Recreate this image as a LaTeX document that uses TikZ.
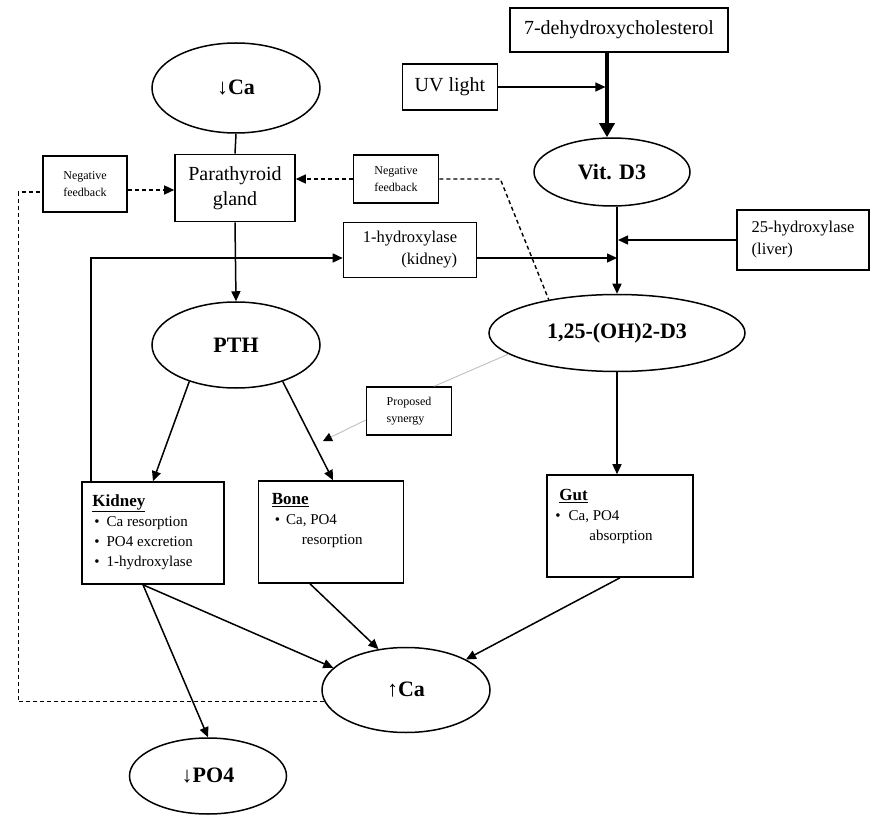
\documentclass[tikz,border=0pt]{standalone}
\usepackage{fontspec}
\setmainfont{Liberation Serif}
\usetikzlibrary{shapes.geometric,arrows.meta,calc}

\begin{document}
\begin{tikzpicture}[x=1pt,y=-1pt,
  box/.style={draw, line width=1.6pt, inner sep=0pt, rectangle},
  oval/.style={draw, ellipse, line width=1.5pt, inner sep=0pt, font=\fontsize{22}{26}\selectfont\bfseries},
  link/.style={line width=1.5pt},
  arr/.style={link, -{Triangle[length=10pt,width=9pt]}},
  fb/.style={line width=1.4pt, dash pattern=on 4pt off 3pt},
  fbarr/.style={fb, -{Triangle[length=10pt,width=9pt]}},
  syn/.style={line width=0.9pt, draw=black!25},
  big/.style={font=\fontsize{20}{25}\selectfont},
  mid/.style={font=\fontsize{16.5}{22}\selectfont},
  small/.style={font=\fontsize{12}{17}\selectfont},
  body/.style={anchor=north west, inner sep=0pt, align=left, font=\fontsize{15}{20}\selectfont},
]
\useasboundingbox (0,0) rectangle (873,818);

% vitamin D pathway
\node[box, big, minimum width=218pt, minimum height=44pt] (dehyd) at (619,30) {7-dehydroxycholesterol};
\node[box, big, minimum width=95pt, minimum height=46pt] (uv) at (450,87) {UV light};
\node[oval, minimum width=156pt, minimum height=68pt] (vitd) at (612,172) {Vit. D3};
\node[box, mid, align=left, minimum width=132pt, minimum height=60pt] (hyd25) at (803,240) {25-hydroxylase\\(liver)};
\node[box, mid, align=right, minimum width=133pt, minimum height=55pt] (hyd1) at (410,250) {1-hydroxylase\\(kidney)};
\node[oval, minimum width=256pt, minimum height=77pt] (oh) at (617,333) {1,25-(OH)2-D3};
\node[box, minimum width=146pt, minimum height=102pt] (gut) at (620,526) {};

% parathyroid axis
\node[oval, minimum width=168pt, minimum height=90pt] (lca) at (236,88) {↓Ca};
\node[box, big, align=center, minimum width=120pt, minimum height=67pt] (pt) at (235,188) {Parathyroid\\gland};
\node[box, small, align=left, minimum width=84pt, minimum height=56pt] (nfL) at (85,184) {Negative\\feedback};
\node[box, small, align=left, minimum width=85pt, minimum height=48pt] (nfR) at (396,179) {Negative\\feedback};
\node[oval, minimum width=168pt, minimum height=86pt] (pth) at (236,345) {PTH};
\node[box, small, align=left, minimum width=85pt, minimum height=48pt] (synbox) at (409,411) {Proposed\\synergy};
\node[box, minimum width=142pt, minimum height=102pt] (kid) at (153,533) {};
\node[box, minimum width=145pt, minimum height=102pt] (bone) at (331,532) {};
\node[oval, minimum width=168pt, minimum height=85pt] (uca) at (406,690) {↑Ca};
\node[oval, minimum width=157pt, minimum height=76pt] (po4) at (208,776) {↓PO4};

% target organ texts
\node[body] (kidtxt) at ($(kid.north west)+(11,13)$)
  {{\fontsize{17}{20}\selectfont\bfseries\underline{Kidney}}\\
   \hspace*{2pt}\textbullet\hspace{7pt}Ca resorption\\
   \hspace*{2pt}\textbullet\hspace{7pt}PO4 excretion\\
   \hspace*{2pt}\textbullet\hspace{7pt}1-hydroxylase};
\node[body] (bonetxt) at ($(bone.north west)+(14,13)$)
  {{\fontsize{17}{20}\selectfont\bfseries\underline{Bone}}\\
   \hspace*{3pt}\textbullet\hspace{6pt}Ca, PO4\\
   \hspace*{30pt}resorption};
\node[body] (guttxt) at ($(gut.north west)+(13,15)$)
  {{\fontsize{17}{20}\selectfont\bfseries\underline{Gut}}\\
   \hspace*{-4pt}\textbullet\hspace{8pt}Ca, PO4\\
   \hspace*{30pt}absorption};

% junctions on the vitamin D line
\coordinate (tk) at ($(dehyd.south)+(-12,0)$);
\coordinate (j25) at (oh.north |- hyd25.west);
\coordinate (h1r) at ($(hyd1.east)+(0,8)$);
\coordinate (h1l) at ($(hyd1.west)+(0,8)$);
\coordinate (kb) at ($(kid.south)+(-10,0)$);
\coordinate (syntip) at (323,441);

% vitamin D synthesis
\draw[line width=3.2pt, -{Triangle[length=14pt,width=15pt]}] (tk) -- (tk |- vitd.north);
\draw[arr, shorten >=1.6pt] (uv.east) -- (uv.east -| tk);
\draw[arr] (vitd.south -| oh.north) -- (oh.north);
\draw[arr, shorten >=1pt] (hyd25.west) -- (j25);
\draw[arr] (h1r) -- (h1r -| oh.north);
\draw[arr] ($(kid.north west)+(10,0)$) |- (h1l);
\draw[arr] (oh.south) -- (oh.south |- gut.north);

% parathyroid hormone actions
\draw[link] (lca.south) -- (pt.north);
\draw[arr] (pt.south) -- (pth.north);
\draw[arr] (pth.218) -- (kid.north);
\draw[arr] (pth.-38) -- ($(bone.north)+(2,0)$);

% calcium and phosphate outcomes
\draw[arr] (kb) -- (uca.163);
\draw[arr] (kb) -- (po4.north);
\draw[arr] ($(bone.south)+(-21,0)$) -- (uca.124);
\draw[arr] (gut.south) -- (uca.27);

% negative feedback loops
\draw[fbarr] ($(nfL.east)+(0,6)$) -- ($(pt.west |- nfL.east)+(0,6)$);
\draw[fb] (uca.188) -| ($(nfL.west)+(-24,8)$) -- ($(nfL.west)+(0,8)$);
\draw[fbarr] (nfR.west) -- (nfR.west -| pt.east);
\draw[fb] (nfR.east) -- ++(61,0) -- (oh.154);

% proposed synergy
\draw[syn] (oh.191) -- ($(synbox.north east)+(-18,0)$);
\draw[syn, -{Triangle[length=9pt,width=9pt,color=black]}] ($(synbox.west)+(0,9)$) -- (syntip);
\end{tikzpicture}
\end{document}
